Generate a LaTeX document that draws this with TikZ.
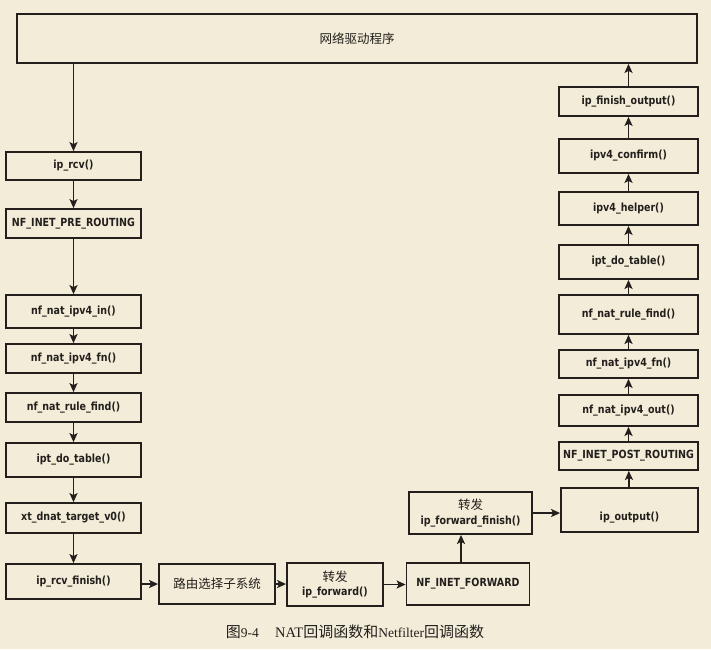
\documentclass[tikz,border=0pt]{standalone}
\usepackage{fontspec}
\setmainfont{Liberation Serif}
\newfontfamily\cjk{Noto Sans CJK SC}
\newfontfamily\lab{DejaVu Sans}[FakeStretch=0.85]
\usetikzlibrary{arrows.meta}
\definecolor{paper}{HTML}{F3ECD8}
\definecolor{ink}{HTML}{221F1C}
\tikzset{
  labfont/.style={font=\lab\bfseries\fontsize{11.2}{13.5}\selectfont,text=ink}
}
\newcommand{\zhtxt}[1]{{\cjk\mdseries\fontsize{12.5}{14}\selectfont #1}}
\newcommand{\capzh}[1]{{\cjk\fontsize{15}{16}\selectfont #1}}
\begin{document}
\begin{tikzpicture}[x=1pt,y=-1pt,
  box/.style={draw=ink,line width=1.8pt,fill=paper,inner sep=0pt,align=center,labfont},
  arr/.style={draw=ink,line width=1.8pt,-{Stealth[length=9pt,width=8pt,inset=2pt]}}]
\fill[paper] (0,0) rectangle (711,649);
\useasboundingbox (0,0) rectangle (711,649);
% top
\node[box,minimum width=680pt,minimum height=49pt] (drv) at (357,38.5) {\zhtxt{网络驱动程序}};
% left column
\node[box,minimum width=135pt,minimum height=28pt] (rcv) at (73.5,166) {ip\_rcv()};
\node[box,minimum width=135pt,minimum height=29pt] (pre) at (73.5,223.5) {NF\_INET\_PRE\_ROUTING};
\node[box,minimum width=135pt,minimum height=33pt] (inn) at (73.5,311.5) {nf\_nat\_ipv4\_in()};
\node[box,minimum width=135pt,minimum height=29pt] (lfn) at (73.5,358.5) {nf\_nat\_ipv4\_fn()};
\node[box,minimum width=135pt,minimum height=29pt] (lrule) at (73.5,407.5) {nf\_nat\_rule\_find()};
\node[box,minimum width=135pt,minimum height=34pt] (lipt) at (73.5,460) {ipt\_do\_table()};
\node[box,minimum width=135pt,minimum height=30pt] (xt) at (73.5,518) {xt\_dnat\_target\_v0()};
\node[box,minimum width=135pt,minimum height=35pt] (rfin) at (73.5,581.5) {ip\_rcv\_finish()};
% bottom row
\node[box,minimum width=116pt,minimum height=40pt] (route) at (217,584) {\zhtxt{路由选择子系统}};
\node[box,minimum width=96pt,minimum height=43pt] (fwd) at (335,584.5) {\zhtxt{转发}\\[1pt]ip\_forward()};
\node[box,minimum width=123pt,minimum height=42pt] (nffwd) at (468,584) {NF\_INET\_FORWARD};
\node[box,minimum width=123pt,minimum height=42pt] (ffin) at (470.5,513) {\zhtxt{转发}\\[1pt]ip\_forward\_finish()};
% right column
\node[box,minimum width=139pt,minimum height=29pt] (fout) at (628.5,101.5) {ip\_finish\_output()};
\node[box,minimum width=139pt,minimum height=34pt] (conf) at (628.5,156) {ipv4\_confirm()};
\node[box,minimum width=139pt,minimum height=33pt] (help) at (628.5,208.5) {ipv4\_helper()};
\node[box,minimum width=139pt,minimum height=34pt] (ript) at (628.5,262) {ipt\_do\_table()};
\node[box,minimum width=139pt,minimum height=39pt] (rrule) at (628.5,314.5) {nf\_nat\_rule\_find()};
\node[box,minimum width=139pt,minimum height=28pt] (rfn) at (628.5,364) {nf\_nat\_ipv4\_fn()};
\node[box,minimum width=139pt,minimum height=31pt] (rout) at (628.5,410.5) {nf\_nat\_ipv4\_out()};
\node[box,minimum width=139pt,minimum height=28pt] (post) at (628.5,456) {NF\_INET\_POST\_ROUTING};
\node[box,minimum width=137pt,minimum height=44pt,
  label={[labfont,yshift=-8pt]center:ip\_output()}] (ipout) at (629.5,510) {};
% caption
\node[inner sep=0pt,font=\fontsize{13.5}{16}\selectfont,text=ink] (cap) at (355,632)
  {\capzh{图}9-4\hspace{1.2em}{\fontsize{14.5}{16}\selectfont NAT}\capzh{回调函数和}Netfilter\capzh{回调函数}};
% connectors
\draw[arr] (drv.south -| rcv) -- (rcv.north);
\draw[arr] (rcv) -- (pre);
\draw[arr] (pre) -- (inn);
\draw[arr] (inn) -- (lfn);
\draw[arr] (lfn) -- (lrule);
\draw[arr] (lrule) -- (lipt);
\draw[arr] (lipt) -- (xt);
\draw[arr] (xt) -- (rfin);
\draw[arr] (rfin.east |- route.west) -- (route.west);
\draw[arr] (route.east) -- (fwd.west |- route.east);
\draw[arr] (fwd.east) -- (nffwd.west |- fwd.east);
\draw[arr] ([xshift=-7pt]nffwd.north) -- ([xshift=-7pt]nffwd.north |- ffin.south);
\draw[arr] (ffin.east) -- (ipout.west |- ffin.east);
\draw[arr] (ipout) -- (post);
\draw[arr] (post) -- (rout);
\draw[arr] (rout) -- (rfn);
\draw[arr] (rfn) -- (rrule);
\draw[arr] (rrule) -- (ript);
\draw[arr] (ript) -- (help);
\draw[arr] (help) -- (conf);
\draw[arr] (conf) -- (fout);
\draw[arr] (fout.north) -- (fout.north |- drv.south);
\end{tikzpicture}
\end{document}
